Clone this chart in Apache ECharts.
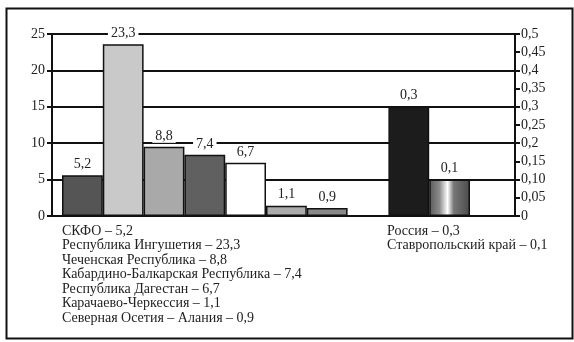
<!DOCTYPE html>
<html>
<head>
<meta charset="utf-8">
<script src="https://cdn.jsdelivr.net/npm/echarts@6/dist/echarts.min.js"></script>
<style>
html,body{margin:0;padding:0;background:#fff;}
#chart{width:574px;height:342px;}
</style>
</head>
<body>
<div id="chart"></div>
<script>
// Regions of the North Caucasus Federal District
const categories = ['СКФО', 'Республика Ингушетия', 'Чеченская Республика', 'Кабардино-Балкарская Республика', 'Республика Дагестан', 'Карачаево-Черкессия', 'Северная Осетия – Алания'];
// values as labelled
const regionValues = [5.2, 23.3, 8.8, 7.4, 6.7, 1.1, 0.9];
// bar heights as drawn in the picture (left axis)
const regionBarHeights = [5.6, 23.6, 9.5, 8.4, 7.3, 1.4, 1.1];
// reference bars (right axis)
const refCategories = ['Россия', 'Ставропольский край'];
const refValues = [0.3, 0.1];
// tick labels
const leftTickLabels = ['0', '5', '10', '15', '20', '25'];
const rightTickLabels = ['0', '0,05', '0,10', '0,15', '0,2', '0,25', '0,3', '0,35', '0,4', '0,45', '0,5'];

const regionColors = ['#555555', '#c9c9c9', '#a9a9a9', '#606060', '#ffffff', '#ababab', '#8a8a8a'];
const refColors = [
  '#1c1c1c',
  {type: 'linear', x: 0, y: 0, x2: 1, y2: 0, colorStops: [
    {offset: 0, color: '#5a5a5a'}, {offset: 0.25, color: '#8a8a8a'}, {offset: 0.45, color: '#ffffff'},
    {offset: 0.6, color: '#777777'}, {offset: 1, color: '#4a4a4a'}]}
];

const fmt = v => String(v).replace('.', ',');
const FONT = 'Liberation Serif';

const chart = echarts.init(document.getElementById('chart'));

const xCats = categories.concat([''], refCategories);
const seriesA = regionBarHeights.map((h, i) => ({value: h, itemStyle: {color: regionColors[i]}}));
while (seriesA.length < xCats.length) seriesA.push('-');
const seriesB = xCats.map(() => '-');
refValues.forEach((v, i) => { seriesB[categories.length + 1 + i] = {value: v, itemStyle: {color: refColors[i]}}; });

const leftText = categories.map((c, i) => c + ' – ' + fmt(regionValues[i])).join('\n');
const rightText = refCategories.map((c, i) => c + ' – ' + fmt(refValues[i])).join('\n');

const labelStyle = {
  show: true, position: 'top', distance: 4, fontFamily: FONT, fontSize: 14, color: '#222',
  backgroundColor: '#fff', padding: [0, 3]
};

chart.setOption({
  animation: false,
  backgroundColor: '#fff',
  grid: [
    {left: 52, right: 59, top: 34, bottom: 126},
    {left: 62, width: 408, top: 34, bottom: 126}
  ],
  xAxis: [
    {type: 'category', gridIndex: 0, data: [''], show: false},
    {type: 'category', gridIndex: 1, data: xCats, show: false}
  ],
  yAxis: [
    {type: 'value', gridIndex: 0, position: 'left', min: 0, max: 25, interval: 5,
     axisLine: {show: true, lineStyle: {color: '#111', width: 2}},
     axisTick: {show: true, inside: false, length: 5, lineStyle: {color: '#111', width: 2}},
     splitLine: {show: true, lineStyle: {color: '#111', width: 1.8}},
     axisLabel: {fontFamily: FONT, fontSize: 14, color: '#222', margin: 7,
       formatter: v => leftTickLabels[Math.round(v / 5)]}},
    {type: 'value', gridIndex: 0, position: 'right', min: 0, max: 0.5, interval: 0.05,
     axisLine: {show: true, lineStyle: {color: '#111', width: 2}},
     axisTick: {show: true, inside: false, length: 5, lineStyle: {color: '#111', width: 2}},
     splitLine: {show: false},
     axisLabel: {fontFamily: FONT, fontSize: 14, color: '#222', margin: 6,
       formatter: v => rightTickLabels[Math.round(v / 0.05)]}},
    {type: 'value', gridIndex: 1, min: 0, max: 25, show: false, splitLine: {show: false}},
    {type: 'value', gridIndex: 1, min: 0, max: 0.5, show: false, splitLine: {show: false}}
  ],
  series: [
    {type: 'bar', xAxisIndex: 1, yAxisIndex: 2, data: seriesA, barCategoryGap: 0, barGap: '-100%',
     itemStyle: {borderColor: '#111', borderWidth: 1.5},
     label: Object.assign({}, labelStyle, {formatter: p => fmt(regionValues[p.dataIndex])}), z: 3},
    {type: 'bar', xAxisIndex: 1, yAxisIndex: 3, data: seriesB, barCategoryGap: 0, barGap: '-100%',
     itemStyle: {borderColor: '#111', borderWidth: 1.5},
     label: Object.assign({}, labelStyle, {formatter: p => fmt(p.value)}), z: 3}
  ],
  graphic: [
    {type: 'rect', left: 4, top: 6, shape: {x: 0, y: 0, width: 566, height: 330},
     style: {fill: 'none', stroke: '#111', lineWidth: 2}, silent: true, z: -1},
    {type: 'text', left: 62, top: 224,
     style: {text: leftText, fontFamily: FONT, fontSize: 14, lineHeight: 14.5, fill: '#222'}},
    {type: 'text', left: 387, top: 224,
     style: {text: rightText, fontFamily: FONT, fontSize: 14, lineHeight: 14.5, fill: '#222'}}
  ]
});
</script>
</body>
</html>
